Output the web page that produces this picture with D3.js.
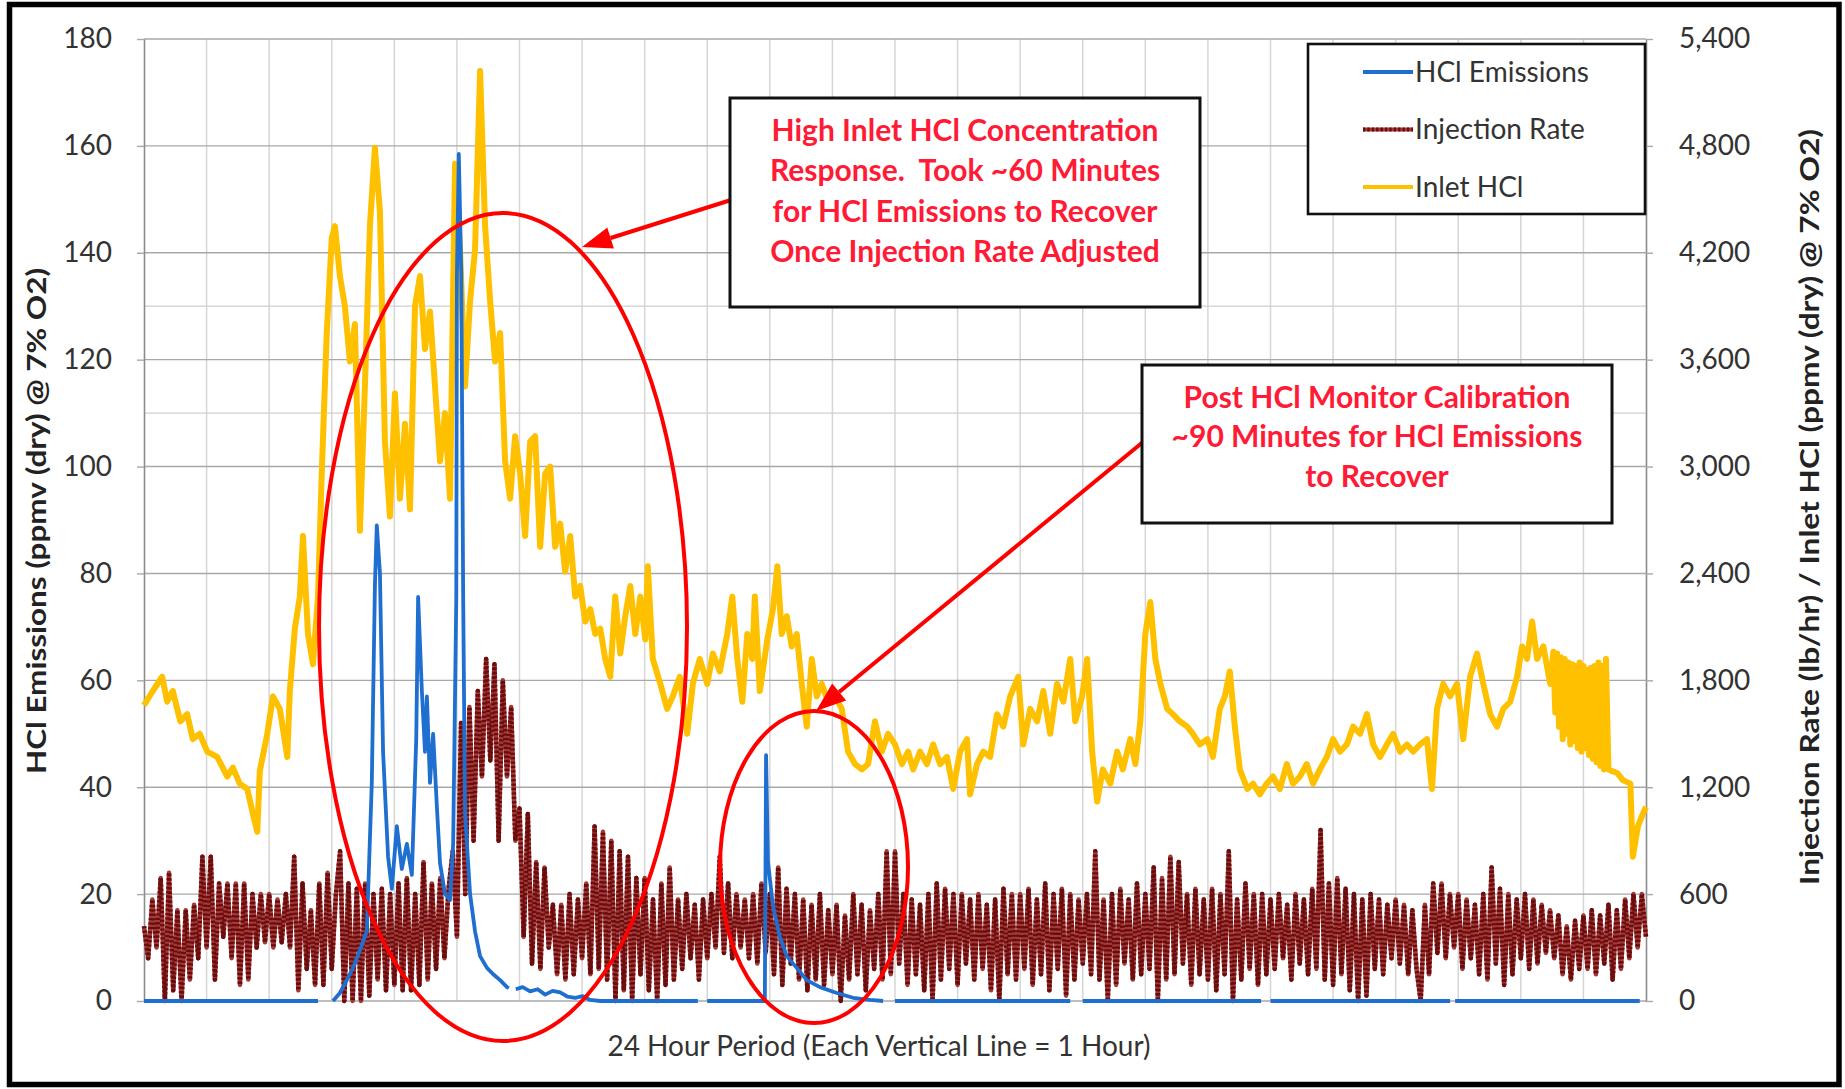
<!DOCTYPE html>
<html>
<head>
<meta charset="utf-8">
<script src="https://cdn.jsdelivr.net/npm/d3@7"></script>
<style>
  html, body { margin: 0; padding: 0; background: #fff; }
  svg { display: block; }
  text { font-family: Lato, "Open Sans", "DejaVu Sans", sans-serif; }
</style>
</head>
<body>
<svg id="chart" width="1845" height="1089"></svg>
<script>
// ---------------- data ----------------
const hourLines = [1,2,3,4,5,6,7,8,9,10,11,12,13,14,15,16,17,18,19,20,21,22,23];
const leftTicks = [0, 20, 40, 60, 80, 100, 120, 140, 160, 180];
const rightTicks = [0, 600, 1200, 1800, 2400, 3000, 3600, 4200, 4800, 5400];
const minorGridLeft = [110, 130];

const seriesNames = ["HCl Emissions", "Injection Rate", "Inlet HCl"];

// HCl emissions, ppmv (dry) @ 7% O2 — [hour, value]; null = no data (monitor calibration)
const hclEmissions = [
  [0,0],[2.78,0],[2.78,null],[3.0,null],[3.02,0],[3.13,1.5],[3.24,3.9],[3.34,6.2],[3.45,9.5],[3.56,13],
  [3.64,40.8],[3.69,77.8],[3.72,89],[3.77,80],[3.82,46.6],[3.90,27],[3.96,21],[4.04,32.7],[4.12,24.7],
  [4.20,29.4],[4.28,23.6],[4.35,49],[4.38,75.6],[4.44,58],[4.49,46.6],[4.52,57],[4.57,40.8],[4.62,50],
  [4.68,36.3],[4.73,25.8],[4.81,20],[4.89,18.9],[4.94,29.4],[4.99,75.6],[5.00,135.8],[5.03,158.5],
  [5.07,136],[5.10,75.6],[5.13,35],[5.21,20],[5.29,13],[5.37,8.4],[5.48,6.2],[5.58,5],[5.69,3.9],
  [5.80,2.6],[5.83,2.4],[5.84,null],[5.93,null],[5.94,2.2],[6.05,2.6],[6.17,1.8],[6.29,2.2],[6.41,1.2],
  [6.53,1.9],[6.65,1.6],[6.77,0.8],[6.89,0.6],[7.01,0.9],[7.13,0.2],[7.29,0],[8.85,0],[8.86,null],
  [8.99,null],[9.0,0],[9.92,0],[9.94,46],[9.97,26],[10.05,17.8],[10.16,12],[10.27,8.4],[10.43,6.2],
  [10.59,3.9],[10.80,2.6],[11.07,1.5],[11.33,0.6],[11.60,0.2],[11.81,0],[11.82,null],[11.99,null],
  [12.0,0],[14.8,0],[14.81,null],[14.99,null],[15.0,0],[17.85,0],[17.86,null],[17.99,null],[18.0,0],
  [20.87,0],[20.88,null],[20.94,null],[20.95,0],[23.9,0]
];

// Inlet HCl, ppmv (dry) @ 7% O2 — [hour, value]
const inletHCl = [
  [0.00,1660],[0.14,1740],[0.29,1820],[0.37,1680],[0.46,1740],[0.58,1570],[0.69,1610],[0.78,1470],
  [0.89,1500],[1.01,1400],[1.17,1370],[1.33,1260],[1.42,1310],[1.53,1220],[1.65,1190],[1.74,1050],
  [1.81,950],[1.85,1290],[1.97,1500],[2.06,1710],[2.17,1640],[2.29,1370],[2.33,1740],[2.41,2090],
  [2.49,2270],[2.54,2610],[2.62,2060],[2.70,1890],[2.78,2270],[2.84,2960],[2.92,3750],[3.00,4280],
  [3.05,4350],[3.13,4070],[3.21,3900],[3.29,3590],[3.37,3800],[3.45,2640],[3.53,3450],[3.61,4350],
  [3.69,4790],[3.77,4430],[3.85,3140],[3.93,2720],[4.01,3410],[4.09,2820],[4.17,3240],[4.25,2760],
  [4.33,3900],[4.41,4070],[4.49,3660],[4.57,3870],[4.65,3450],[4.73,3030],[4.81,3300],[4.89,2820],
  [4.97,4700],[5.05,4220],[5.13,3450],[5.21,3930],[5.29,4220],[5.37,5220],[5.45,4350],[5.53,3930],
  [5.61,3590],[5.69,3750],[5.77,3030],[5.85,2820],[5.93,3170],[6.01,2960],[6.09,2610],[6.17,3140],
  [6.25,3170],[6.33,2550],[6.41,2960],[6.49,3000],[6.57,2550],[6.65,2680],[6.73,2410],[6.81,2610],
  [6.89,2270],[6.97,2330],[7.05,2130],[7.13,2200],[7.21,2060],[7.29,2090],[7.37,1920],[7.45,1820],
  [7.53,2270],[7.61,1950],[7.69,2160],[7.77,2330],[7.85,2060],[7.93,2270],[8.01,2030],[8.05,2440],
  [8.13,1920],[8.25,1780],[8.36,1640],[8.45,1710],[8.56,1820],[8.68,1500],[8.77,1780],[8.88,1920],
  [9.00,1780],[9.09,1950],[9.20,1850],[9.32,2060],[9.40,2270],[9.48,1920],[9.56,1680],[9.64,2060],
  [9.72,1920],[9.76,2270],[9.84,1740],[9.96,2030],[10.05,2200],[10.12,2440],[10.19,2060],[10.27,2160],
  [10.35,1990],[10.43,2060],[10.51,1780],[10.59,1540],[10.67,1920],[10.75,1710],[10.83,1780],
  [10.93,1680],[11.04,1710],[11.15,1640],[11.25,1400],[11.36,1330],[11.47,1300],[11.57,1330],
  [11.68,1570],[11.79,1400],[11.89,1500],[12.00,1440],[12.11,1330],[12.21,1400],[12.29,1300],
  [12.40,1400],[12.51,1330],[12.61,1440],[12.72,1330],[12.83,1370],[12.93,1190],[13.04,1400],
  [13.15,1470],[13.20,1160],[13.31,1330],[13.41,1400],[13.52,1370],[13.63,1610],[13.73,1540],
  [13.84,1710],[13.97,1820],[14.05,1440],[14.16,1640],[14.27,1570],[14.37,1740],[14.48,1500],
  [14.59,1780],[14.69,1680],[14.80,1920],[14.88,1570],[14.99,1710],[15.07,1920],[15.15,1400],
  [15.23,1120],[15.32,1300],[15.44,1220],[15.55,1400],[15.64,1300],[15.76,1470],[15.84,1330],
  [15.92,1570],[16.00,2060],[16.08,2240],[16.16,1920],[16.24,1780],[16.35,1640],[16.44,1610],
  [16.55,1570],[16.67,1540],[16.76,1500],[16.87,1440],[16.99,1470],[17.08,1370],[17.19,1640],
  [17.27,1710],[17.35,1850],[17.43,1540],[17.51,1300],[17.63,1190],[17.72,1220],[17.83,1160],
  [17.94,1220],[18.04,1260],[18.15,1190],[18.26,1330],[18.36,1220],[18.47,1260],[18.58,1330],
  [18.68,1220],[18.79,1300],[18.90,1370],[19.00,1470],[19.11,1400],[19.22,1440],[19.32,1540],
  [19.43,1500],[19.54,1610],[19.64,1440],[19.75,1370],[19.86,1440],[19.96,1500],[20.07,1400],
  [20.18,1440],[20.28,1400],[20.39,1440],[20.50,1470],[20.58,1190],[20.66,1640],[20.76,1780],
  [20.87,1710],[20.98,1780],[21.08,1470],[21.19,1820],[21.30,1950],[21.40,1780],[21.51,1610],
  [21.62,1540],[21.72,1640],[21.83,1680],[21.94,1820],[22.02,1990],[22.10,1920],[22.18,2130],
  [22.26,1920],[22.36,1990],[22.47,1780],[22.52,1960],[22.55,1620],[22.58,1950],[22.61,1540],
  [22.64,1930],[22.67,1470],[22.70,1920],[22.73,1500],[22.76,1900],[22.79,1440],[22.82,1890],
  [22.85,1460],[22.88,1880],[22.91,1420],[22.94,1900],[22.97,1400],[23.00,1880],[23.03,1420],
  [23.06,1860],[23.09,1380],[23.12,1870],[23.15,1360],[23.18,1880],[23.21,1340],[23.24,1900],
  [23.27,1320],[23.30,1880],[23.33,1300],[23.36,1920],[23.40,1300],[23.46,1290],[23.54,1280],
  [23.63,1240],[23.75,1220],[23.79,810],[23.87,980],[23.95,1050],[24.00,1090]
];

// Sorbent injection rate, lb/hr — one reading every 4 minutes from hour 0 to hour 24
const injectionStepMinutes = 4;
const injectionRate = [
  420,240,570,300,690,0,720,60,510,0,510,120,540,240,810,
  300,810,120,660,360,660,240,660,90,660,120,600,300,600,330,
  600,300,570,330,600,300,810,60,660,180,510,90,660,90,720,
  180,600,840,0,660,0,630,0,660,30,600,120,630,60,600,
  90,660,60,690,60,600,90,780,120,660,180,690,240,630,840,
  360,1560,600,1650,900,1740,1260,1920,1350,1890,900,1800,1260,1650,900,
  1080,360,1050,210,780,180,750,300,540,150,540,120,600,150,570,
  240,660,150,980,180,950,120,900,0,840,60,810,0,690,150,
  690,60,570,0,660,90,750,120,570,180,600,240,540,120,570,
  240,600,300,810,270,660,240,600,300,570,240,600,210,660,270,
  600,150,750,90,630,210,600,120,570,60,540,120,600,90,510,
  150,540,0,480,120,600,150,540,60,510,180,600,120,840,150,
  840,210,600,90,570,150,540,60,600,0,660,120,630,180,600,
  90,600,210,570,120,600,180,540,60,570,0,630,150,600,120,
  600,180,630,90,570,150,660,60,600,180,630,30,600,120,570,
  210,600,150,840,120,570,0,600,90,630,210,570,120,660,150,
  600,180,750,0,690,120,810,150,780,210,600,90,630,150,570,
  120,630,60,600,150,840,0,570,120,660,180,600,90,600,150,
  570,180,600,240,540,120,600,210,570,150,630,180,960,120,660,
  90,690,150,630,60,600,0,570,30,600,180,570,150,540,240,
  570,210,540,150,510,180,0,540,150,660,270,660,240,600,300,
  600,180,570,240,540,150,600,120,750,210,630,90,600,150,570,
  240,600,180,570,210,540,270,510,240,480,150,420,120,450,180,
  480,180,510,150,480,210,540,120,510,180,570,240,600,300,600,360
];

const calloutHigh = [
  "High Inlet HCl Concentration",
  "Response.  Took ~60 Minutes",
  "for HCl Emissions to Recover",
  "Once Injection Rate Adjusted"
];
const calloutCal = [
  "Post HCl Monitor Calibration",
  "~90 Minutes for HCl Emissions",
  "to Recover"
];

const leftTitle = "HCl Emissions (ppmv (dry) @ 7% O2)";
const rightTitle = "Injection Rate (lb/hr) / Inlet HCl (ppmv (dry) @ 7% O2)";
const bottomTitle = "24 Hour Period (Each Vertical Line = 1 Hour)";

// ---------------- layout ----------------
const W = 1845, H = 1089;
const plot = { left: 144, right: 1646, top: 39, bottom: 1001 };
const colors = { emis: "#1f6fd0", inj: "#a33a3a", injDot: "#6a0c0c", inlet: "#ffc000", red: "#ff0000", redText: "#ff1a35", text: "#333333" };

const svg = d3.select("#chart");
svg.append("rect").attr("width", W).attr("height", H).attr("fill", "#fff");

const x = d3.scaleLinear().domain([0, 24]).range([plot.left, plot.right]);
const yL = d3.scaleLinear().domain([0, 180]).range([plot.bottom, plot.top]);
const yR = d3.scaleLinear().domain([0, 5400]).range([plot.bottom, plot.top]);

// gridlines
const grid = svg.append("g");
grid.selectAll("line.v").data(hourLines).join("line").attr("class", "v")
  .attr("x1", d => x(d)).attr("x2", d => x(d))
  .attr("y1", plot.top).attr("y2", plot.bottom)
  .attr("stroke", "#d6d6d6").attr("stroke-width", 1.5);
grid.selectAll("line.m").data(minorGridLeft).join("line").attr("class", "m")
  .attr("x1", plot.left).attr("x2", plot.right)
  .attr("y1", d => yL(d)).attr("y2", d => yL(d))
  .attr("stroke", "#cfcfcf").attr("stroke-width", 1.3);
grid.selectAll("line.h").data(leftTicks).join("line").attr("class", "h")
  .attr("x1", plot.left).attr("x2", plot.right)
  .attr("y1", d => yL(d)).attr("y2", d => yL(d))
  .attr("stroke", "#a8a8a8").attr("stroke-width", 1.4);

// axes
function styleAxis(g) {
  g.attr("font-family", null).attr("font-size", null);
  g.select(".domain").attr("stroke", "#8c8c8c").attr("stroke-width", 1.6);
  g.selectAll(".tick line").attr("stroke", "#a8a8a8").attr("stroke-width", 1.4);
  g.selectAll(".tick text").attr("font-size", 28).attr("fill", colors.text)
    .style("font-family", 'Lato, "Open Sans", sans-serif');
}
svg.append("g").attr("transform", `translate(${plot.left},0)`)
  .call(d3.axisLeft(yL).tickValues(leftTicks).tickSize(7).tickSizeOuter(0).tickPadding(25).tickFormat(d3.format("d")))
  .call(styleAxis);
svg.append("g").attr("transform", `translate(${plot.right},0)`)
  .call(d3.axisRight(yR).tickValues(rightTicks).tickSize(7).tickSizeOuter(0).tickPadding(26).tickFormat(d3.format(",")))
  .call(styleAxis);

// series
const inletLine = d3.line().x(d => x(d[0])).y(d => yR(d[1]));
svg.append("path").datum(inletHCl).attr("d", inletLine)
  .attr("fill", "none").attr("stroke", colors.inlet).attr("stroke-width", 6)
  .attr("stroke-linejoin", "round");

const injLine = d3.line()
  .x((d, i) => x(i * injectionStepMinutes / 60))
  .y(d => yR(d));
svg.append("path").datum(injectionRate).attr("d", injLine)
  .attr("fill", "none").attr("stroke", colors.inj).attr("stroke-width", 4.5)
  .attr("stroke-linejoin", "round");
svg.append("path").datum(injectionRate).attr("d", injLine)
  .attr("fill", "none").attr("stroke", colors.injDot).attr("stroke-width", 4.5)
  .attr("stroke-dasharray", "2.2,2.2").attr("stroke-linejoin", "round");

const emisLine = d3.line().defined(d => d[1] !== null).x(d => x(d[0])).y(d => yL(d[1]));
svg.append("path").datum(hclEmissions).attr("d", emisLine)
  .attr("fill", "none").attr("stroke", colors.emis).attr("stroke-width", 3.8)
  .attr("stroke-linejoin", "round");

// axis titles
svg.append("text").attr("transform", "translate(37,521) rotate(-90)")
  .attr("text-anchor", "middle").attr("dy", "0.35em")
  .attr("font-size", 27).attr("font-weight", "bold").attr("fill", "#222")
  .attr("textLength", 506).attr("lengthAdjust", "spacingAndGlyphs")
  .text(leftTitle);
svg.append("text").attr("transform", "translate(1810,507) rotate(-90)")
  .attr("text-anchor", "middle").attr("dy", "0.35em")
  .attr("font-size", 27).attr("font-weight", "bold").attr("fill", "#222")
  .attr("textLength", 756).attr("lengthAdjust", "spacingAndGlyphs")
  .text(rightTitle);
svg.append("text").attr("x", 879).attr("y", 1056)
  .attr("text-anchor", "middle").attr("font-size", 28).attr("fill", colors.text)
  .text(bottomTitle);

// legend
const legend = svg.append("g");
legend.append("rect").attr("x", 1308).attr("y", 44).attr("width", 337).attr("height", 170)
  .attr("fill", "#fff").attr("stroke", "#111").attr("stroke-width", 2.6);
const legendRows = [
  { name: seriesNames[0], color: colors.emis, dash: null },
  { name: seriesNames[1], color: colors.inj, dash: "2.2,2.2" },
  { name: seriesNames[2], color: colors.inlet, dash: null }
];
const rowY = d3.scalePoint().domain(seriesNames).range([72, 187]);
legendRows.forEach(r => {
  const gy = rowY(r.name);
  legend.append("line").attr("x1", 1363).attr("x2", 1413).attr("y1", gy).attr("y2", gy)
    .attr("stroke", r.color).attr("stroke-width", 4);
  if (r.dash) {
    legend.append("line").attr("x1", 1363).attr("x2", 1413).attr("y1", gy).attr("y2", gy)
      .attr("stroke", colors.injDot).attr("stroke-width", 4).attr("stroke-dasharray", r.dash);
  }
  legend.append("text").attr("x", 1415).attr("y", gy).attr("dy", "0.35em")
    .attr("font-size", 28).attr("fill", colors.text).text(r.name);
});

// annotations: ellipses, arrows, callout boxes
const notes = svg.append("g");
notes.append("ellipse").attr("cx", 503).attr("cy", 627).attr("rx", 184).attr("ry", 414)
  .attr("fill", "none").attr("stroke", colors.red).attr("stroke-width", 4);
notes.append("ellipse").attr("cx", 814).attr("cy", 867).attr("rx", 94).attr("ry", 156)
  .attr("fill", "none").attr("stroke", colors.red).attr("stroke-width", 4);

function arrow(x1, y1, x2, y2) {
  const a = Math.atan2(y2 - y1, x2 - x1);
  const len = 30, half = 11;
  const bx = x2 - len * Math.cos(a), by = y2 - len * Math.sin(a);
  notes.append("line").attr("x1", x1).attr("y1", y1).attr("x2", bx).attr("y2", by)
    .attr("stroke", colors.red).attr("stroke-width", 4);
  const p = [
    [x2, y2],
    [bx + half * Math.sin(a), by - half * Math.cos(a)],
    [bx - half * Math.sin(a), by + half * Math.cos(a)]
  ];
  notes.append("path").attr("d", "M" + p.map(q => q.join(",")).join("L") + "Z").attr("fill", colors.red);
}
arrow(731, 200, 582, 247);
arrow(1143, 442, 816, 711);

function callout(x0, y0, w, h, lines, firstCenter, step) {
  notes.append("rect").attr("x", x0).attr("y", y0).attr("width", w).attr("height", h)
    .attr("fill", "#fff").attr("stroke", "#111").attr("stroke-width", 3);
  lines.forEach((t, i) => {
    notes.append("text").attr("x", x0 + w / 2).attr("y", firstCenter + i * step).attr("dy", "0.35em")
      .attr("text-anchor", "middle").attr("font-size", 30).attr("font-weight", "bold")
      .style("white-space", "pre")
      .attr("fill", colors.redText).text(t);
  });
}
callout(730, 98, 470, 209, calloutHigh, 130, 40.5);
callout(1142, 365, 470, 158, calloutCal, 397, 39.5);

// outer frame
svg.append("rect").attr("x", 9.5).attr("y", 4.5).attr("width", 1829.5).attr("height", 1080)
  .attr("fill", "none").attr("stroke", "#000").attr("stroke-width", 5.5);
</script>
</body>
</html>
